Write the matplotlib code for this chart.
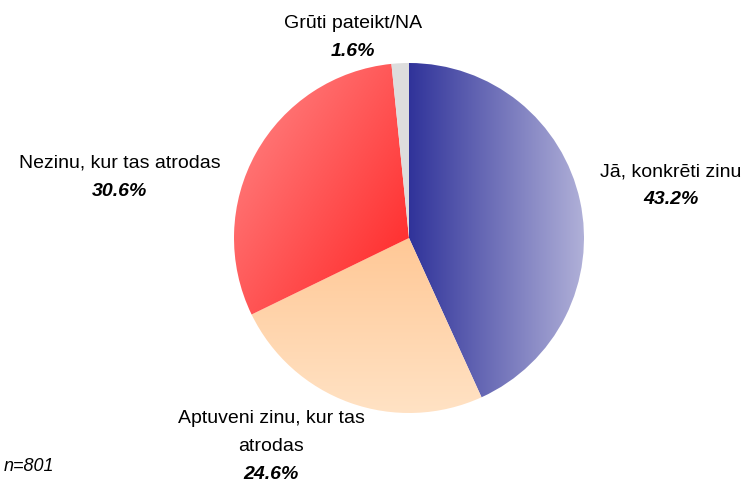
import matplotlib

matplotlib.use("Agg")

import matplotlib.pyplot as plt
import numpy as np
from matplotlib.colors import to_rgb

categories = ["Jā, konkrēti zinu", "Aptuveni zinu, kur tas\natrodas",
              "Nezinu, kur tas atrodas", "Grūti pateikt/NA"]
shares = [43.2, 24.6, 30.6, 1.6]
pct_labels = ["43.2%", "24.6%", "30.6%", "1.6%"]
sample_note = "n=801"

W, H = 750, 486
CX, CY, R = 409, H - 238, 175

plt.rcParams["font.family"] = ["Liberation Sans", "DejaVu Sans"]

fig = plt.figure(figsize=(W / 100, H / 100), dpi=100)
ax = fig.add_axes([0, 0, 1, 1])

wedges, _ = ax.pie(shares, center=(CX, CY), radius=R, startangle=90,
                   counterclock=False, colors=["none"] * 4,
                   wedgeprops=dict(linewidth=0))
ax.set_xlim(0, W)
ax.set_ylim(0, H)
ax.set_aspect("equal")
ax.set_axis_off()


def gradient_fill(wedge, c0, c1, direction, extent):
    n = 300
    xs = np.linspace(0, 1, n)
    gx, gy = np.meshgrid(xs, xs)
    dx, dy = direction
    t = gx * dx + gy * dy
    t = (t - t.min()) / (t.max() - t.min())
    a, b = np.array(to_rgb(c0)), np.array(to_rgb(c1))
    img = a + (b - a) * t[..., None]
    im = ax.imshow(img, extent=extent, origin="lower",
                   interpolation="bilinear", zorder=1)
    im.set_clip_path(wedge)


# blue: dark at the centre line, light to the right
gradient_fill(wedges[0], "#30339A", "#B0B0D8", (1, 0),
              (CX, CX + R, CY - R, CY + R))
# peach: deeper near the centre, paler at the bottom
gradient_fill(wedges[1], "#FFE2C4", "#FFC896", (0, 1),
              (CX - R, CX + R, CY - R, CY))
# red: bright near the centre, pink to the upper left
gradient_fill(wedges[2], "#FF1E1E", "#FF8A8A", (-1, 1),
              (CX - R, CX, CY - 100, CY + R))
wedges[3].set_facecolor("#DDDDDD")
wedges[3].set_zorder(2)

fs = 14
label_pos = [(671, 172), (271, 418), (120, 163), (353, 24)]
for cat, pct, (x, y) in zip(categories, pct_labels, label_pos):
    lines = cat.split("\n")
    for i, line in enumerate(lines):
        ax.text(x, H - (y + 28 * i), line, ha="center", va="center",
                fontsize=fs)
    ax.text(x, H - (y + 28 * len(lines)), pct, ha="center", va="center",
            fontsize=fs, fontweight="bold", fontstyle="italic")

ax.text(54, H - 466, sample_note, ha="right", va="center", fontsize=13,
        fontstyle="italic")

fig.savefig("out.png", dpi=100, facecolor="white")
